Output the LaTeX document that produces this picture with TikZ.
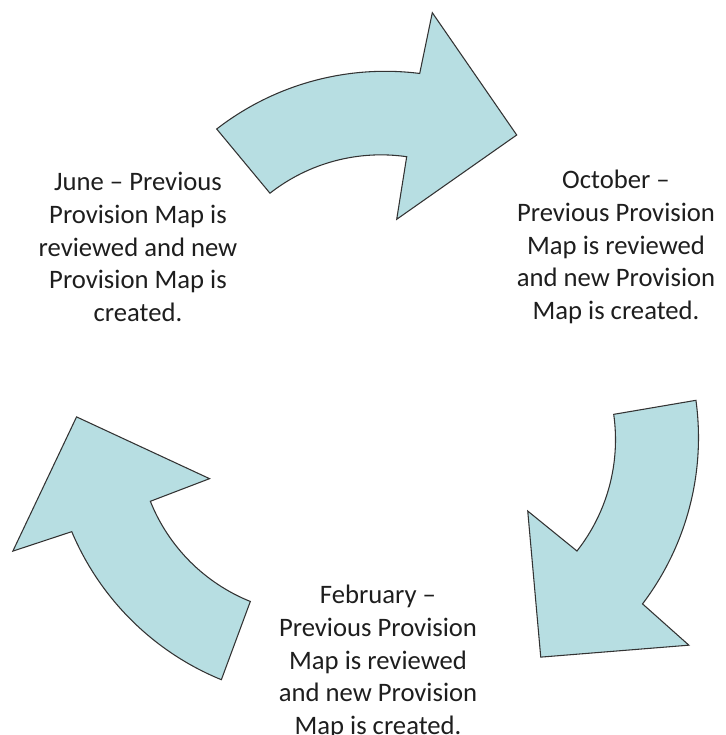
\documentclass[tikz,border=0pt]{standalone}
\usepackage{fontspec}
\setmainfont{Carlito}
\usepackage{tikz}
\definecolor{shapeblue}{RGB}{183,222,226}
\definecolor{textgray}{RGB}{30,30,30}

\begin{document}
\begin{tikzpicture}[x=0.75pt, y=-0.75pt, arrow shape/.style={fill=shapeblue, draw=black!80, line width=0.8pt, line join=miter}, text node/.style={align=center, text=textgray, font=\fontsize{20}{24.5}\selectfont}]
\useasboundingbox (0,0) rectangle (725,735);
% one curved arrow, turned round the middle three times
\foreach \a in {0,-120,120}
  \draw[arrow shape, rotate around={\a:(378,403)}] (216.7,129) arc[start angle=-127.8, end angle=-82.8, radius=275]
    -- (432.3,12.7) -- (516.7,135) -- (396.7,219.3) -- (406.7,156.7)
    arc[start angle=-81.8, end angle=-128.1, radius=180] -- cycle;
\node[text node] (june) at (138,247) {June – Previous\\Provision Map is\\reviewed and new\\Provision Map is\\created.};
\node[text node] (oct) at (616,247) {October –\\Previous Provision\\Map is reviewed\\and new Provision\\Map is created.};
\node[text node] (feb) at (378,662) {February –\\Previous Provision\\Map is reviewed\\and new Provision\\Map is created.};
\end{tikzpicture}
\end{document}
